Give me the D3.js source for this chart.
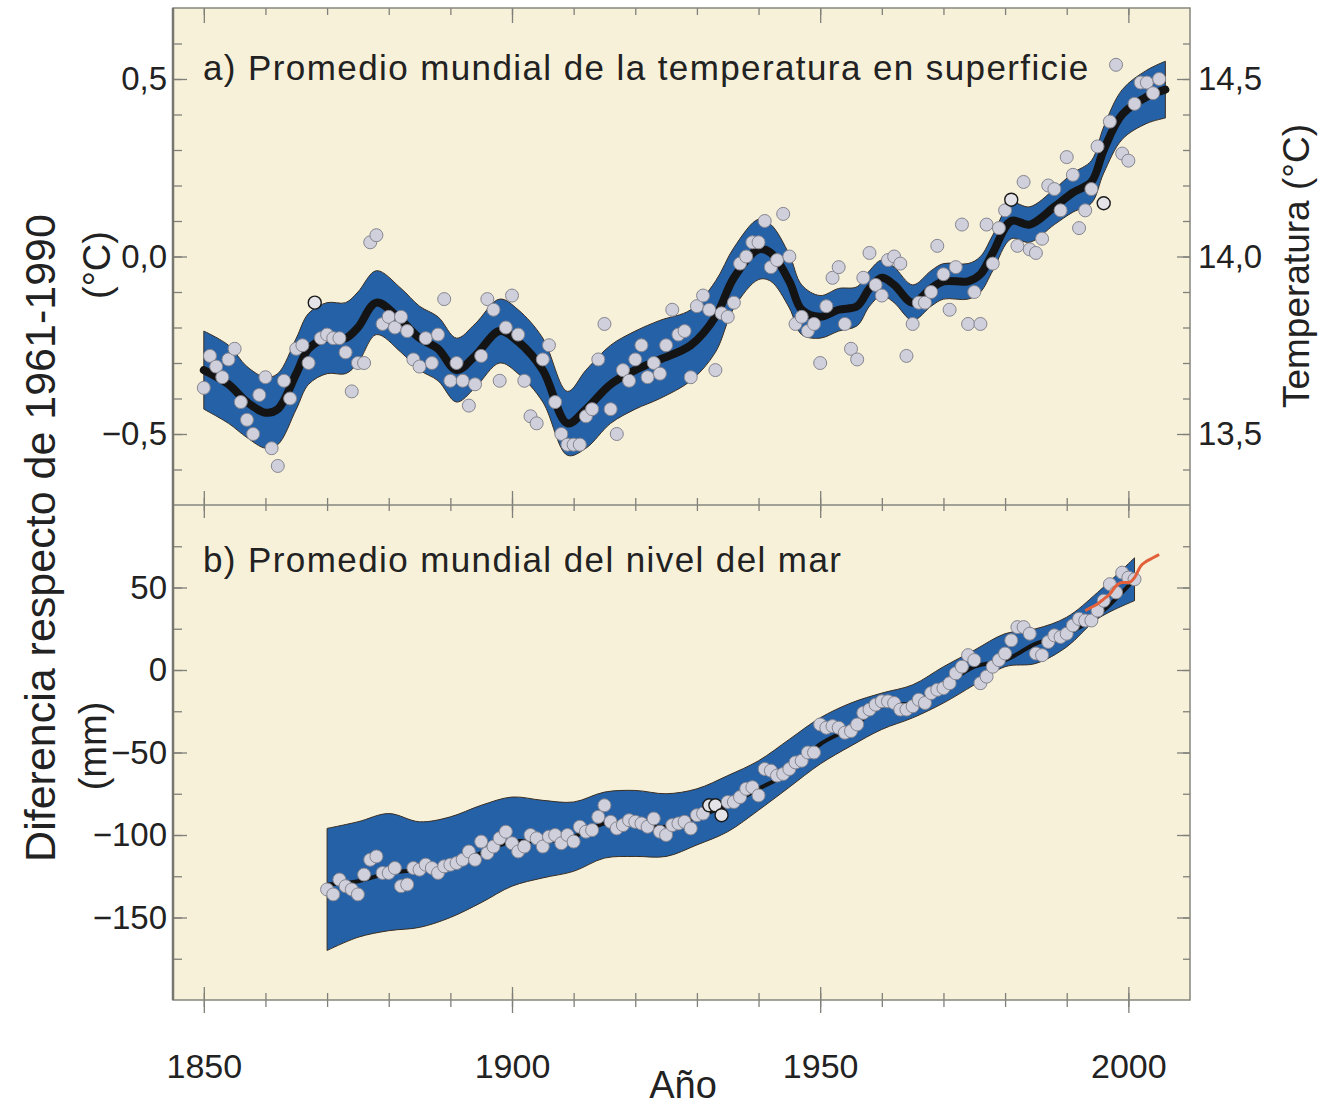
<!DOCTYPE html>
<html>
<head>
<meta charset="utf-8">
<script src="https://cdn.jsdelivr.net/npm/d3@7"></script>
<style>
  body { margin: 0; background: #fff; }
  svg { display: block; font-family: "Liberation Sans", Arial, Helvetica, sans-serif; }
  .lbl text { font-size: 33px; fill: #222; }
  .lbl path, .tk path { display: none; }
  .tk line { stroke: #80807a; stroke-width: 1.3; }
</style>
</head>
<body>
<svg id="chart" width="1322" height="1109"></svg>
<script>
// ---- panel a: global mean surface temperature (anomaly vs 1961-1990, °C)
const tempStart = 1850;
const temps = [
  -0.37, -0.28, -0.31, -0.34, -0.29, -0.26, -0.41, -0.46, -0.50, -0.39,
  -0.34, -0.54, -0.59, -0.35, -0.40, -0.26, -0.25, -0.30, -0.13, -0.23,
  -0.22, -0.23, -0.23, -0.27, -0.38, -0.30, -0.30, 0.04, 0.06, -0.19,
  -0.17, -0.20, -0.17, -0.21, -0.29, -0.31, -0.23, -0.30, -0.22, -0.12,
  -0.35, -0.30, -0.35, -0.42, -0.36, -0.28, -0.12, -0.15, -0.35, -0.20,
  -0.11, -0.22, -0.35, -0.45, -0.47, -0.29, -0.25, -0.41, -0.50, -0.53,
  -0.53, -0.53, -0.45, -0.43, -0.29, -0.19, -0.43, -0.50, -0.32, -0.35,
  -0.29, -0.25, -0.34, -0.30, -0.33, -0.25, -0.15, -0.22, -0.21, -0.34,
  -0.14, -0.11, -0.15, -0.32, -0.16, -0.17, -0.13, -0.02, 0.00, 0.04,
  0.04, 0.10, -0.03, -0.01, 0.12, 0.00, -0.19, -0.17, -0.21, -0.19,
  -0.30, -0.14, -0.06, -0.03, -0.19, -0.26, -0.29, -0.06, 0.01, -0.08,
  -0.11, -0.01, 0.00, -0.02, -0.28, -0.19, -0.13, -0.13, -0.10, 0.03,
  -0.05, -0.15, -0.03, 0.09, -0.19, -0.10, -0.19, 0.09, -0.02, 0.08,
  0.13, 0.16, 0.03, 0.21, 0.02, 0.01, 0.05, 0.20, 0.19, 0.13,
  0.28, 0.23, 0.08, 0.13, 0.19, 0.31, 0.15, 0.38, 0.54, 0.29,
  0.27, 0.43, 0.49, 0.49, 0.46, 0.50
];
const tempOutlined = [1868, 1981, 1996];

const tempSmoothYears = [1850, 1854, 1857, 1860, 1862, 1865, 1867, 1870, 1873, 1875,
  1878, 1882, 1885, 1888, 1891, 1894, 1898, 1901, 1905, 1909,
  1912, 1916, 1920, 1924, 1929, 1933, 1936, 1940, 1942, 1945,
  1947, 1950, 1953, 1956, 1958, 1960, 1962, 1965, 1968, 1970,
  1974, 1976, 1978, 1981, 1984, 1988, 1991, 1994, 1996, 1999,
  2003, 2006];
const tempSmooth = [-0.32, -0.36, -0.41, -0.44, -0.43, -0.33, -0.26, -0.23, -0.23, -0.20,
  -0.13, -0.18, -0.23, -0.26, -0.32, -0.28, -0.21, -0.24, -0.32, -0.47,
  -0.43, -0.36, -0.32, -0.29, -0.25, -0.17, -0.06, 0.02, 0.01, -0.07,
  -0.15, -0.17, -0.15, -0.14, -0.09, -0.06, -0.08, -0.13, -0.09, -0.07,
  -0.07, -0.05, 0.01, 0.10, 0.09, 0.14, 0.18, 0.21, 0.30, 0.40,
  0.45, 0.47];
const tempUncert = [0.11, 0.11, 0.10, 0.10, 0.10, 0.10, 0.10, 0.10, 0.10, 0.10,
  0.09, 0.09, 0.09, 0.09, 0.09, 0.09, 0.09, 0.09, 0.09, 0.09,
  0.11, 0.11, 0.11, 0.11, 0.10, 0.10, 0.085, 0.085, 0.08, 0.075,
  0.07, 0.06, 0.06, 0.055, 0.05, 0.05, 0.05, 0.05, 0.05, 0.05,
  0.05, 0.05, 0.05, 0.05, 0.05, 0.05, 0.055, 0.06, 0.065, 0.07,
  0.075, 0.08];
const baseTemp = 14.0;
const tempTicks = [-0.5, 0, 0.5];

// ---- panel b: global mean sea level (anomaly vs 1961-1990, mm)
const seaStart = 1870;
const sea = [
  -133, -136, -127, -131, -133, -136, -124, -115, -113, -123,
  -123, -120, -131, -130, -120, -121, -118, -120, -123, -119,
  -118, -117, -115, -110, -115, -104, -111, -107, -102, -98,
  -105, -110, -107, -100, -102, -107, -101, -100, -105, -100,
  -104, -95, -98, -97, -89, -82, -92, -96, -94, -91,
  -92, -93, -95, -90, -98, -100, -94, -93, -92, -96,
  -88, -87, -82, -82, -88, -80, -80, -77, -72, -71,
  -76, -60, -61, -64, -63, -60, -56, -55, -50, -50,
  -33, -35, -34, -35, -38, -37, -33, -26, -24, -21,
  -19, -19, -20, -24, -24, -22, -18, -20, -14, -12,
  -11, -8, -2, 2, 9, 6, -8, -4, 2, 6,
  10, 18, 26, 26, 22, 10, 9, 17, 21, 20,
  22, 27, 31, 30, 30, 36, 42, 52, 47, 59,
  56, 55
];
const seaOutlined = [1932, 1933, 1934];

const seaSmoothYears = [1870, 1875, 1880, 1885, 1890, 1895, 1900, 1905, 1910, 1915,
  1920, 1925, 1930, 1935, 1940, 1945, 1950, 1955, 1960, 1965,
  1970, 1975, 1980, 1985, 1990, 1995, 2001];
const seaSmooth = [-130, -128, -123, -121, -118, -111, -104, -104, -101, -93,
  -93, -95, -89, -82, -72, -62, -45, -35, -22, -20,
  -10, 2, 6, 16, 22, 33, 55];
const seaUpper = [-96, -92, -87, -92, -89, -82, -77, -79, -80, -74,
  -73, -75, -72, -64, -55, -42, -29, -20, -14, -9,
  2, 12, 22, 25, 32, 47, 68];
const seaLower = [-170, -162, -158, -156, -150, -141, -131, -126, -122, -114,
  -113, -113, -106, -98, -85, -71, -57, -46, -36, -29,
  -20, -9, 2, 4, 14, 31, 42];

// satellite altimetry (red)
const altYears = [1993, 1994, 1995, 1996, 1997, 1998, 1999, 2000, 2001, 2002, 2003, 2004, 2005];
const altSea = [36, 38, 40, 43, 46, 51, 53, 53, 56, 63, 66, 68, 70];
const seaTicks = [-150, -100, -50, 0, 50];

const yearTicks = [1850, 1900, 1950, 2000];

// ---- layout
const frame = { left: 173, right: 1190, top: 8, mid: 505, bottom: 1000 };
const colors = { bg: "#f7f1da", band: "#2461a7", edge: "#3b2e22", line: "#141414",
  dot: "#d0d0dc", dotStroke: "#85858f", red: "#e2603a", frame: "#86867e", text: "#222" };

const svg = d3.select("#chart");

const x = d3.scaleLinear().domain([1845, 2010]).range([frame.left, frame.right]);
const yT = d3.scaleLinear().domain([-0.7, 0.7]).range([frame.mid, frame.top]);
const yAbs = d3.scaleLinear().domain([baseTemp - 0.7, baseTemp + 0.7]).range([frame.mid, frame.top]);
const yS = d3.scaleLinear().domain([-200, 100]).range([frame.bottom, frame.mid]);

const es = d3.formatLocale({ decimal: ",", thousands: ".", grouping: [3], currency: ["", " €"], minus: "\u2212" });
const f1 = es.format(".1f");
const f0 = es.format("d");

// background
svg.append("rect")
  .attr("x", frame.left).attr("y", frame.top)
  .attr("width", frame.right - frame.left).attr("height", frame.bottom - frame.top)
  .attr("fill", colors.bg);

// ---- tick marks
const minorYears = d3.range(1850, 2001, 10);
function tickRow(y0, size, values) {
  svg.append("g").attr("class", "tk")
    .attr("transform", `translate(0,${y0})`)
    .call(d3.axisBottom(x).tickValues(values).tickSize(size).tickFormat(""));
}
tickRow(frame.top, 7, minorYears);
tickRow(frame.top, 15, yearTicks);
tickRow(frame.mid - 7, 13, minorYears);
tickRow(frame.mid - 14, 27, yearTicks);
tickRow(frame.bottom - 7, 14, minorYears);
tickRow(frame.bottom - 13, 26, yearTicks);

function tickCol(scale, x0, size, values, right) {
  const ax = right ? d3.axisLeft(scale) : d3.axisRight(scale);
  svg.append("g").attr("class", "tk")
    .attr("transform", `translate(${x0},0)`)
    .call(ax.tickValues(values).tickSize(size).tickFormat(""));
}
const tMinor = d3.range(-6, 7).map(d => d / 10);
const sMinor = d3.range(-175, 76, 25);
tickCol(yT, frame.left, 9, tMinor, false);
tickCol(yT, frame.left, 14, tempTicks, false);
tickCol(yT, frame.right, 7, tMinor, true);
tickCol(yT, frame.right, 13, tempTicks, true);
tickCol(yS, frame.left, 9, sMinor, false);
tickCol(yS, frame.left, 14, seaTicks, false);
tickCol(yS, frame.right, 7, sMinor, true);
tickCol(yS, frame.right, 13, seaTicks, true);

// ---- panel a marks
const tempSm = tempSmoothYears.map((yr, i) => ({ year: yr, v: tempSmooth[i], h: tempUncert[i] }));
const curve = d3.curveCatmullRom.alpha(0.5);

svg.append("path")
  .datum(tempSm)
  .attr("d", d3.area().x(d => x(d.year)).y0(d => yT(d.v - d.h)).y1(d => yT(d.v + d.h)).curve(curve))
  .attr("fill", colors.band).attr("stroke", colors.edge).attr("stroke-width", 1);

svg.append("path")
  .datum(tempSm)
  .attr("d", d3.line().x(d => x(d.year)).y(d => yT(d.v)).curve(curve))
  .attr("fill", "none").attr("stroke", colors.line).attr("stroke-width", 8)
  .attr("stroke-linecap", "round");

const tempPts = temps.map((v, i) => ({ year: tempStart + i, v }));
svg.append("g").selectAll("circle")
  .data(tempPts)
  .join("circle")
  .attr("cx", d => x(d.year))
  .attr("cy", d => yT(d.v))
  .attr("r", 6.5)
  .attr("fill", d => tempOutlined.includes(d.year) ? "#e4e4e8" : colors.dot)
  .attr("stroke", d => tempOutlined.includes(d.year) ? "#1a1a1a" : colors.dotStroke)
  .attr("stroke-width", d => tempOutlined.includes(d.year) ? 1.4 : 1);

// ---- panel b marks
const seaSm = seaSmoothYears.map((yr, i) => ({ year: yr, v: seaSmooth[i], hi: seaUpper[i], lo: seaLower[i] }));

svg.append("path")
  .datum(seaSm)
  .attr("d", d3.area().x(d => x(d.year)).y0(d => yS(d.lo)).y1(d => yS(d.hi)).curve(curve))
  .attr("fill", colors.band).attr("stroke", colors.edge).attr("stroke-width", 1);

svg.append("path")
  .datum(seaSm)
  .attr("d", d3.line().x(d => x(d.year)).y(d => yS(d.v)).curve(curve))
  .attr("fill", "none").attr("stroke", colors.line).attr("stroke-width", 4);

const seaPts = sea.map((v, i) => ({ year: seaStart + i, v }));
svg.append("g").selectAll("circle")
  .data(seaPts)
  .join("circle")
  .attr("cx", d => x(d.year))
  .attr("cy", d => yS(d.v))
  .attr("r", 6.5)
  .attr("fill", d => seaOutlined.includes(d.year) ? "#e4e4e8" : colors.dot)
  .attr("stroke", d => seaOutlined.includes(d.year) ? "#1a1a1a" : colors.dotStroke)
  .attr("stroke-width", d => seaOutlined.includes(d.year) ? 1.4 : 1);

svg.append("path")
  .datum(altYears.map((yr, i) => ({ year: yr, v: altSea[i] })))
  .attr("d", d3.line().x(d => x(d.year)).y(d => yS(d.v)).curve(d3.curveMonotoneX))
  .attr("fill", "none").attr("stroke", colors.red).attr("stroke-width", 3);

// ---- frame
svg.append("rect")
  .attr("x", frame.left).attr("y", frame.top)
  .attr("width", frame.right - frame.left).attr("height", frame.bottom - frame.top)
  .attr("fill", "none").attr("stroke", colors.frame).attr("stroke-width", 1.5);
svg.append("line")
  .attr("x1", frame.left).attr("x2", frame.right)
  .attr("y1", frame.mid).attr("y2", frame.mid)
  .attr("stroke", colors.frame).attr("stroke-width", 1.5);
svg.append("line")
  .attr("x1", frame.left).attr("x2", frame.left)
  .attr("y1", frame.top).attr("y2", frame.bottom)
  .attr("stroke", "#77776f").attr("stroke-width", 2.5);

// ---- tick labels
svg.append("g").attr("class", "lbl")
  .attr("transform", `translate(${frame.left},0)`)
  .call(d3.axisLeft(yT).tickValues(tempTicks).tickSize(0).tickPadding(6).tickFormat(f1));
svg.append("g").attr("class", "lbl")
  .attr("transform", `translate(${frame.right},0)`)
  .call(d3.axisRight(yAbs).tickValues(tempTicks.map(d => d + baseTemp)).tickSize(0).tickPadding(8).tickFormat(f1));
svg.append("g").attr("class", "lbl")
  .attr("transform", `translate(${frame.left},0)`)
  .call(d3.axisLeft(yS).tickValues(seaTicks).tickSize(0).tickPadding(6).tickFormat(f0));
const xl = svg.append("g").attr("class", "lbl")
  .attr("transform", `translate(0,${frame.bottom})`)
  .call(d3.axisBottom(x).tickValues(yearTicks).tickSize(0).tickFormat(d3.format("d")));
xl.selectAll("text").attr("dy", null).attr("y", 78).style("font-size", "34px");

// ---- titles
function label(txt, px, py, size, opts = {}) {
  const t = svg.append("text")
    .attr("x", px).attr("y", py)
    .attr("font-size", size).attr("fill", colors.text)
    .attr("text-anchor", opts.anchor || "start")
    .text(txt);
  if (opts.rotate) t.attr("transform", `rotate(-90,${px},${py})`);
  if (opts.spacing) t.attr("letter-spacing", opts.spacing);
  return t;
}
label("a) Promedio mundial de la temperatura en superficie", 203, 80, 35, { spacing: 1.4 });
label("b) Promedio mundial del nivel del mar", 203, 572, 35, { spacing: 1.4 });
label("Año", 683, 1098, 38, { anchor: "middle" });
label("Diferencia respecto de 1961-1990", 55, 538, 43, { anchor: "middle", rotate: true });
label("(°C)", 110, 265, 38, { anchor: "middle", rotate: true });
label("(mm)", 106, 746, 38, { anchor: "middle", rotate: true });
label("Temperatura (°C)", 1309, 266, 37, { anchor: "middle", rotate: true });
</script>
</body>
</html>
